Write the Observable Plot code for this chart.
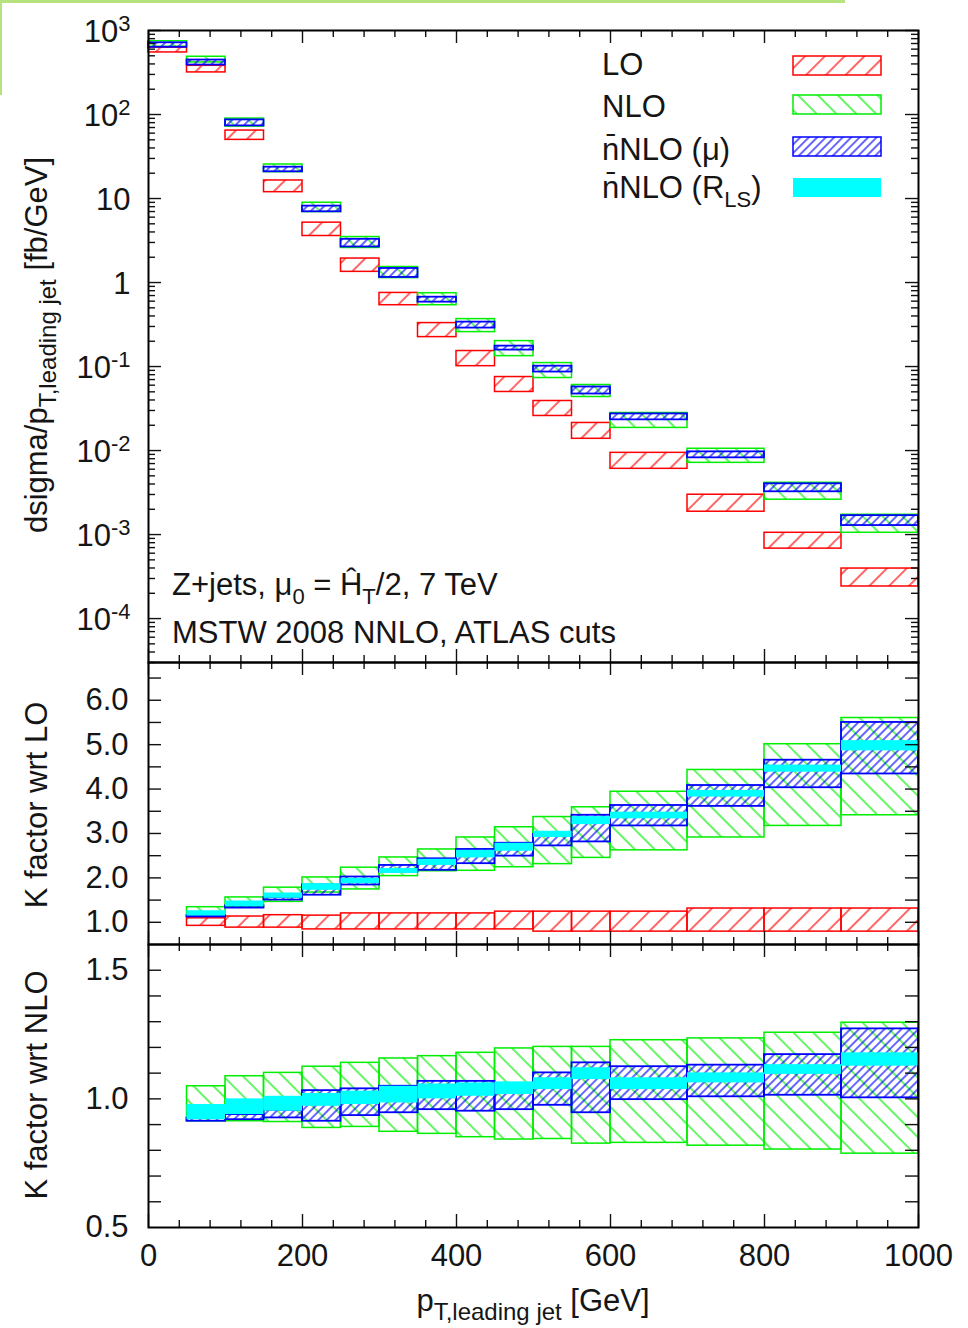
<!DOCTYPE html>
<html>
<head>
<meta charset="utf-8">
<script src="https://cdn.jsdelivr.net/npm/d3@7"></script>
<script src="https://cdn.jsdelivr.net/npm/@observablehq/plot@0.6"></script>
<style>
  body { margin: 0; background: #fff; }
  #wrap { position: relative; width: 968px; height: 1328px; overflow: hidden; }
  #wrap svg { position: absolute; left: 0; }
  #deco { position: absolute; left: 0; top: 0; width: 845px; height: 95px; border-top: 3px solid #b6e37e; border-left: 2px solid #b6e37e; box-sizing: border-box; }
</style>
</head>
<body>
<div id="wrap"><div id="deco"></div></div>
<script>
// ---------------- DATA ----------------
// Top panel bins (GeV)
const topBinLo = [0, 50, 100, 150, 200, 250, 300, 350, 400, 450, 500, 550, 600, 700, 800, 900];
const topBinHi = [50, 100, 150, 200, 250, 300, 350, 400, 450, 500, 550, 600, 700, 800, 900, 1000];
// dsigma/dpT [fb/GeV] bands
const topLOlo   = [548, 317, 49.9, 11.9, 3.58, 1.34, 0.537, 0.224, 0.101, 0.0498, 0.0258, 0.0138, 0.00606, 0.00187, 0.00068, 0.000241];
const topLOhi   = [625, 380, 64.4, 16.4, 5.16, 1.93, 0.752, 0.329, 0.153, 0.0750, 0.0389, 0.0213, 0.00939, 0.00298, 0.00105, 0.000394];
const topNLOlo  = [640, 417, 71.8, 20.6, 6.90, 2.58, 1.13, 0.537, 0.257, 0.133, 0.0730, 0.0434, 0.0186, 0.00714, 0.00260, 0.00105];
const topNLOhi  = [745, 487, 89.4, 25.4, 8.91, 3.48, 1.53, 0.746, 0.367, 0.201, 0.110, 0.0603, 0.0280, 0.0105, 0.00413, 0.00172];
const topNNLOlo = [631, 388, 73.2, 20.8, 6.95, 2.65, 1.15, 0.584, 0.287, 0.157, 0.0860, 0.0471, 0.0232, 0.00819, 0.00323, 0.00128];
const topNNLOhi = [714, 445, 86.3, 23.6, 8.12, 3.27, 1.47, 0.669, 0.338, 0.175, 0.101, 0.0571, 0.0273, 0.00965, 0.00402, 0.00168];

// K-factor panels bins (GeV)
const kBinLo = [50, 100, 150, 200, 250, 300, 350, 400, 450, 500, 550, 600, 700, 800, 900];
const kBinHi = [100, 150, 200, 250, 300, 350, 400, 450, 500, 550, 600, 700, 800, 900, 1000];

// K factor wrt LO
const kLO_LOlo   = [0.92, 0.88, 0.88, 0.84, 0.84, 0.84, 0.84, 0.84, 0.84, 0.79, 0.79, 0.79, 0.79, 0.79, 0.79];
const kLO_LOhi   = [1.09, 1.13, 1.16, 1.15, 1.20, 1.20, 1.20, 1.20, 1.24, 1.24, 1.24, 1.24, 1.31, 1.31, 1.31];
const kLO_NLOlo  = [1.13, 1.35, 1.46, 1.67, 1.74, 2.04, 2.15, 2.16, 2.24, 2.31, 2.45, 2.62, 2.91, 3.17, 3.41];
const kLO_NLOhi  = [1.34, 1.56, 1.78, 2.01, 2.23, 2.46, 2.64, 2.91, 3.14, 3.37, 3.59, 3.94, 4.43, 5.01, 5.60];
const kLO_NNLOlo = [1.12, 1.32, 1.50, 1.61, 1.84, 2.13, 2.17, 2.32, 2.49, 2.72, 2.81, 3.17, 3.61, 4.03, 4.34];
const kLO_NNLOhi = [1.15, 1.37, 1.56, 1.84, 2.02, 2.28, 2.43, 2.64, 2.78, 2.98, 3.41, 3.63, 4.08, 4.65, 5.50];
const kLO_RLSlo  = [1.14, 1.35, 1.54, 1.72, 1.87, 2.10, 2.28, 2.45, 2.60, 2.91, 3.20, 3.33, 3.82, 4.38, 4.86];
const kLO_RLShi  = [1.26, 1.48, 1.66, 1.87, 1.99, 2.21, 2.42, 2.62, 2.78, 3.05, 3.38, 3.48, 3.97, 4.54, 5.09];

// K factor wrt NLO
const kNLO_NLOlo  = [0.913, 0.913, 0.910, 0.887, 0.891, 0.872, 0.864, 0.851, 0.842, 0.844, 0.826, 0.829, 0.818, 0.803, 0.787];
const kNLO_NLOhi  = [1.049, 1.088, 1.101, 1.125, 1.140, 1.157, 1.166, 1.179, 1.196, 1.202, 1.202, 1.228, 1.235, 1.257, 1.296];
const kNLO_NNLOlo = [0.913, 0.919, 0.926, 0.913, 0.935, 0.946, 0.958, 0.952, 0.958, 0.975, 0.946, 0.997, 1.008, 1.014, 1.004];
const kNLO_NNLOhi = [0.925, 0.939, 0.956, 1.032, 1.039, 1.049, 1.068, 1.068, 1.060, 1.101, 1.140, 1.125, 1.131, 1.172, 1.272];
const kNLO_RLSlo  = [0.919, 0.939, 0.952, 0.971, 0.978, 0.984, 1.000, 1.010, 1.017, 1.036, 1.075, 1.036, 1.062, 1.095, 1.127];
const kNLO_RLShi  = [0.978, 1.000, 1.010, 1.021, 1.030, 1.049, 1.058, 1.062, 1.066, 1.082, 1.121, 1.082, 1.101, 1.133, 1.179];

// Tick labels
const xTickValues = [0, 200, 400, 600, 800, 1000];
const xTickLabels = ["0", "200", "400", "600", "800", "1000"];
const topYTickValues = [1000, 100, 10, 1, 0.1, 0.01, 0.001, 0.0001];
const topYTickLabels = ["10^3", "10^2", "10", "1", "10^-1", "10^-2", "10^-3", "10^-4"];
const midYTickValues = [1, 2, 3, 4, 5, 6];
const midYTickLabels = ["1.0", "2.0", "3.0", "4.0", "5.0", "6.0"];
const botYTickValues = [0.5, 1.0, 1.5];
const botYTickLabels = ["0.5", "1.0", "1.5"];

const seriesNames = ["LO", "NLO", "n\u0304NLO (\u03bc)", "n\u0304NLO (R_LS)"];
const colors = {LO: "#ff0000", NLO: "#00ee00", NNLO: "#0000ff", RLS: "#00ffff"};

// ---------------- HELPERS ----------------
const FONT = '"Liberation Sans", Arial, Helvetica, sans-serif';
const FS = 31;
const TXT = "#151515";
const W = 968, ML = 148, MR = 50, innerW = W - ML - MR;

function rows(lo, hi, y1, y2) {
  return lo.map((x1, i) => ({x1, x2: hi[i], y1: y1[i], y2: y2[i]}));
}

function addDefs(svg, pid) {
  const ns = "http://www.w3.org/2000/svg";
  const defs = document.createElementNS(ns, "defs");
  const specs = [
    [`lo-${pid}`, colors.LO, 14, 45, 1.2],
    [`nlo-${pid}`, colors.NLO, 14, -45, 1.2],
    [`nn-${pid}`, colors.NNLO, 6, 45, 1.2]
  ];
  for (const [id, c, s, rot, sw] of specs) {
    const p = document.createElementNS(ns, "pattern");
    p.setAttribute("id", id);
    p.setAttribute("patternUnits", "userSpaceOnUse");
    p.setAttribute("width", s);
    p.setAttribute("height", s);
    p.setAttribute("patternTransform", `rotate(${rot})`);
    const l = document.createElementNS(ns, "line");
    l.setAttribute("x1", s / 2); l.setAttribute("x2", s / 2);
    l.setAttribute("y1", 0); l.setAttribute("y2", s);
    l.setAttribute("stroke", c); l.setAttribute("stroke-width", sw);
    p.appendChild(l);
    defs.appendChild(p);
  }
  svg.insertBefore(defs, svg.firstChild);
}

function rich(svg, {x, y, rotate = 0, anchor = "start", size = FS, subRatio = 0.72, parts}) {
  const t = d3.select(svg).append("text")
    .attr("font-family", FONT).attr("font-size", size).attr("fill", TXT)
    .attr("text-anchor", anchor);
  if (rotate) t.attr("transform", `translate(${x},${y}) rotate(${rotate})`);
  else t.attr("x", x).attr("y", y);
  let shift = 0;
  for (const [s, kind] of parts) {
    const target = kind === "sub" ? 9 : kind === "sup" ? -12 : 0;
    t.append("tspan").attr("dy", target - shift)
      .attr("font-size", kind === "n" ? size : Math.round(size * subRatio)).text(s);
    shift = target;
  }
  return t;
}

function superscripts(svg) {
  svg.querySelectorAll("text").forEach(t => {
    const s = t.textContent;
    if (t.children.length === 0 && s.includes("^")) {
      const [base, exp] = s.split("^");
      t.textContent = "";
      const ns = "http://www.w3.org/2000/svg";
      const a = document.createElementNS(ns, "tspan"); a.textContent = base;
      const b = document.createElementNS(ns, "tspan"); b.textContent = exp;
      b.setAttribute("dy", "-11"); b.setAttribute("font-size", "22");
      t.appendChild(a); t.appendChild(b);
    }
  });
}

function tickMarks(innerH, yMajor, yMinor) {
  const maj = 13, min = 7, sw = 1.4, c = "#111";
  const xMinor = d3.range(40, 1000, 40).filter(v => v % 200 !== 0);
  const marks = [
    Plot.ruleX(xTickValues, {x: d => d, insetTop: innerH - maj, stroke: c, strokeWidth: sw}),
    Plot.ruleX(xTickValues, {x: d => d, insetBottom: innerH - maj, stroke: c, strokeWidth: sw}),
    Plot.ruleX(xMinor, {x: d => d, insetTop: innerH - min, stroke: c, strokeWidth: sw}),
    Plot.ruleX(xMinor, {x: d => d, insetBottom: innerH - min, stroke: c, strokeWidth: sw}),
    Plot.ruleY(yMajor, {y: d => d, insetRight: innerW - maj, stroke: c, strokeWidth: sw}),
    Plot.ruleY(yMajor, {y: d => d, insetLeft: innerW - maj, stroke: c, strokeWidth: sw})
  ];
  if (yMinor.length) {
    marks.push(Plot.ruleY(yMinor, {y: d => d, insetRight: innerW - min, stroke: c, strokeWidth: sw}));
    marks.push(Plot.ruleY(yMinor, {y: d => d, insetLeft: innerW - min, stroke: c, strokeWidth: sw}));
  }
  return marks;
}

function boxMarks(pid, layers) {
  return layers.map(([data, kind]) => {
    if (kind === "RLS") return Plot.rect(data, {x1: "x1", x2: "x2", y1: "y1", y2: "y2", fill: colors.RLS});
    const pat = kind === "LO" ? `lo-${pid}` : kind === "NLO" ? `nlo-${pid}` : `nn-${pid}`;
    return Plot.rect(data, {x1: "x1", x2: "x2", y1: "y1", y2: "y2", fill: `url(#${pat})`, stroke: colors[kind], strokeWidth: kind === "NNLO" ? 1.8 : 1.5});
  });
}

function makePlot({top, height, marginTop, marginBottom, y, marks}) {
  const svg = Plot.plot({
    width: W, height, marginLeft: ML, marginRight: MR, marginTop, marginBottom,
    x: {domain: [0, 1000], axis: null},
    y: {...y, axis: null},
    style: {background: "transparent", fontFamily: FONT, fontSize: FS + "px", color: TXT, overflow: "visible"},
    marks
  });
  svg.style.top = top + "px";
  svg.style.position = "absolute";
  document.getElementById("wrap").appendChild(svg);
  return svg;
}

// ---------------- TOP PANEL ----------------
{
  const innerH = 632;
  const logMinor = [];
  for (let e = -5; e <= 2; e++) for (let m = 2; m <= 9; m++) {
    const v = m * Math.pow(10, e);
    if (v > 3e-5 && v < 1000) logMinor.push(v);
  }
  const svg = makePlot({
    top: 0, height: 664, marginTop: 30, marginBottom: 2,
    y: {type: "log", domain: [3e-5, 1000]},
    marks: [
      ...boxMarks("t", [
        [rows(topBinLo, topBinHi, topLOlo, topLOhi), "LO"],
        [rows(topBinLo, topBinHi, topNLOlo, topNLOhi), "NLO"],
        [rows(topBinLo, topBinHi, topNNLOlo, topNNLOhi), "NNLO"]
      ]),
      ...tickMarks(innerH, topYTickValues, logMinor),
      Plot.text(topYTickValues, {y: d => d, text: (d, i) => topYTickLabels[i], frameAnchor: "left", textAnchor: "end", dx: -18, dy: 2, fontSize: FS, fill: TXT}),
      Plot.frame({stroke: "#000", strokeWidth: 2})
    ]
  });
  addDefs(svg, "t");
  superscripts(svg);
  // legend
  const g = d3.select(svg);
  const legendY = [75, 117, 160, 198];
  const swY = [56, 95, 137, 178];
  rich(svg, {x: 602, y: legendY[0], parts: [[seriesNames[0], "n"]]});
  rich(svg, {x: 602, y: legendY[1], parts: [[seriesNames[1], "n"]]});
  rich(svg, {x: 602, y: legendY[2], parts: [[seriesNames[2], "n"]]});
  rich(svg, {x: 602, y: legendY[3], parts: [["n\u0304NLO (R", "n"], ["LS", "sub"], [")", "n"]]});
  const sw = [["url(#lo-t)", colors.LO], ["url(#nlo-t)", colors.NLO], ["url(#nn-t)", colors.NNLO], [colors.RLS, "none"]];
  sw.forEach(([f, s], i) => {
    g.append("rect").attr("x", 793).attr("y", swY[i]).attr("width", 88).attr("height", 19)
      .attr("fill", f).attr("stroke", s).attr("stroke-width", 1.5);
  });
  // annotations
  rich(svg, {x: 172, y: 595, parts: [["Z+jets, \u03bc", "n"], ["0", "sub"], [" = \u0124", "n"], ["T", "sub"], ["/2, 7 TeV", "n"]]});
  rich(svg, {x: 172, y: 643, parts: [["MSTW 2008 NNLO, ATLAS cuts", "n"]]});
  // y label
  rich(svg, {x: 47, y: 345, rotate: -90, anchor: "middle", subRatio: 0.78, parts: [["dsigma/p", "n"], ["T,leading jet", "sub"], [" [fb/GeV]", "n"]]});
}

// ---------------- MIDDLE PANEL (K wrt LO) ----------------
{
  const innerH = 282;
  const svg = makePlot({
    top: 660, height: 286, marginTop: 2, marginBottom: 2,
    y: {domain: [0.5, 6.85]},
    marks: [
      ...boxMarks("m", [
        [rows(kBinLo, kBinHi, kLO_LOlo, kLO_LOhi), "LO"],
        [rows(kBinLo, kBinHi, kLO_NLOlo, kLO_NLOhi), "NLO"],
        [rows(kBinLo, kBinHi, kLO_NNLOlo, kLO_NNLOhi), "NNLO"],
        [rows(kBinLo, kBinHi, kLO_RLSlo, kLO_RLShi), "RLS"]
      ]),
      ...tickMarks(innerH, d3.range(1, 7, 0.5), []),
      Plot.text(midYTickValues, {y: d => d, text: (d, i) => midYTickLabels[i], frameAnchor: "left", textAnchor: "end", dx: -20, fontSize: FS, fill: TXT}),
      Plot.frame({stroke: "#000", strokeWidth: 2})
    ]
  });
  addDefs(svg, "m");
  rich(svg, {x: 47, y: 145, rotate: -90, anchor: "middle", parts: [["K factor wrt LO", "n"]]});
}

// ---------------- BOTTOM PANEL (K wrt NLO) ----------------
{
  const innerH = 283;
  const svg = makePlot({
    top: 942, height: 386, marginTop: 2, marginBottom: 101,
    y: {domain: [0.5, 1.6]},
    marks: [
      ...boxMarks("b", [
        [rows(kBinLo, kBinHi, kNLO_NLOlo, kNLO_NLOhi), "NLO"],
        [rows(kBinLo, kBinHi, kNLO_NNLOlo, kNLO_NNLOhi), "NNLO"],
        [rows(kBinLo, kBinHi, kNLO_RLSlo, kNLO_RLShi), "RLS"]
      ]),
      ...tickMarks(innerH, d3.range(6, 16).map(v => v / 10), []),
      Plot.text(botYTickValues, {y: d => d, text: (d, i) => botYTickLabels[i], frameAnchor: "left", textAnchor: "end", dx: -20, fontSize: FS, fill: TXT}),
      Plot.text(xTickValues, {x: d => d, text: (d, i) => xTickLabels[i], frameAnchor: "bottom", dy: 38, fontSize: FS, fill: TXT}),
      Plot.frame({stroke: "#000", strokeWidth: 2})
    ]
  });
  addDefs(svg, "b");
  rich(svg, {x: 47, y: 143, rotate: -90, anchor: "middle", parts: [["K factor wrt NLO", "n"]]});
  rich(svg, {x: 533, y: 369, anchor: "middle", subRatio: 0.78, parts: [["p", "n"], ["T,leading jet", "sub"], [" [GeV]", "n"]]});
}
</script>
</body>
</html>
